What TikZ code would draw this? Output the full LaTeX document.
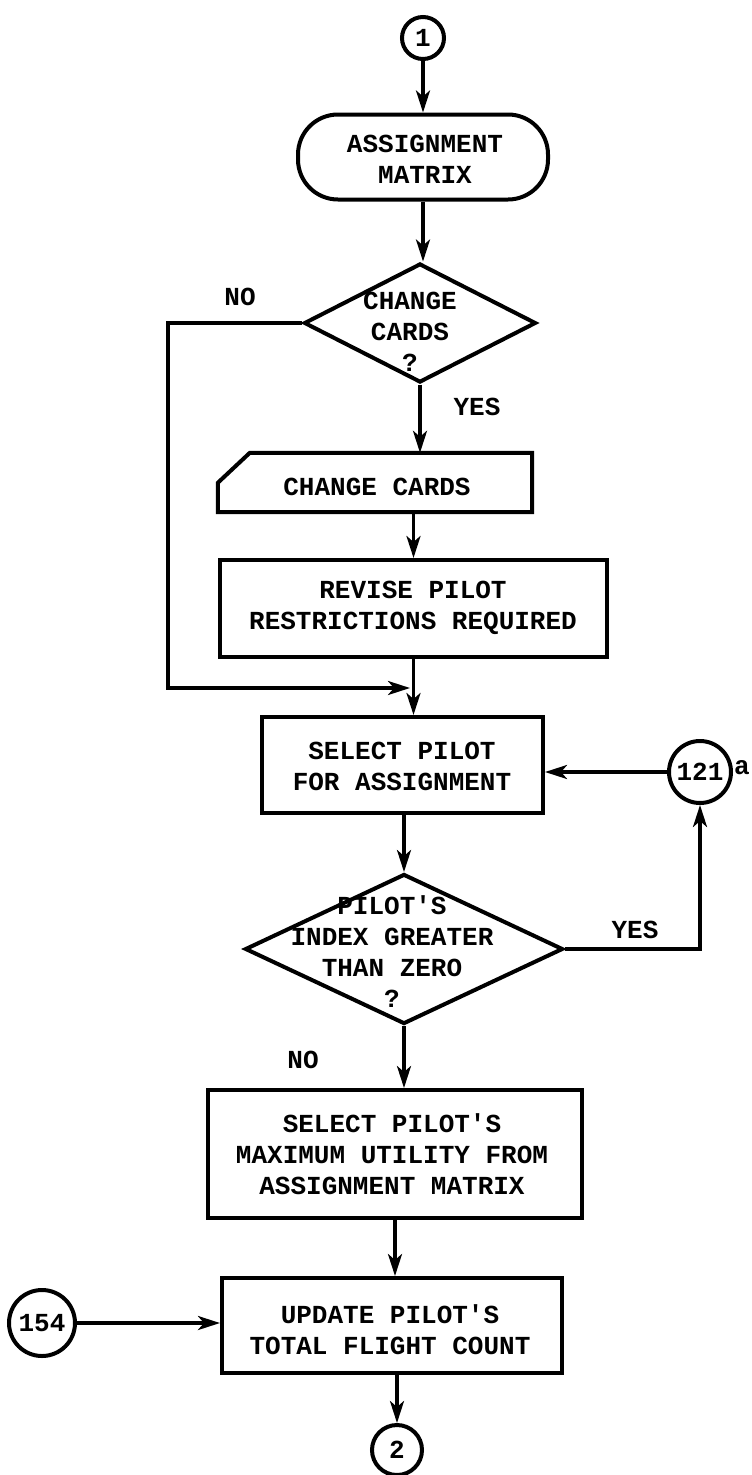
\documentclass[tikz,border=0pt]{standalone}
\usepackage{fontspec}
\setmonofont{Liberation Mono}
\usetikzlibrary{shapes.geometric,arrows.meta}
\begin{document}
\begin{tikzpicture}[x=1pt,y=-1pt,
  ink/.style={draw=black,line width=4pt},
  box/.style={ink,rectangle,inner sep=0pt},
  txt/.style={font=\ttfamily\bfseries\fontsize{26}{31}\selectfont,align=center,inner sep=0pt},
  circ/.style={ink,circle,inner sep=0pt,font=\ttfamily\bfseries\fontsize{26}{31}\selectfont},
  conn/.style={line width=3.5pt,-{Stealth[length=22pt,width=14pt,inset=6pt]}},
  wire/.style={line width=3.5pt}]
\useasboundingbox (0,0) rectangle (752,1475);

% nodes
\node[circ,minimum size=42pt] (c1) at (423,38) {1};
\node[box,rounded corners=40pt,minimum width=250pt,minimum height=85pt] (term) at (423,157) {};
\node[txt] (termt) at (425,159) {ASSIGNMENT\\MATRIX};

\node[ink,diamond,inner sep=0pt,minimum width=232pt,minimum height=119pt] (d1) at (420,323) {};
\node[txt] (d1t) at (410,332) {CHANGE\\CARDS\\?};
\node[txt] (no1) at (240,297) {NO};
\node[txt] (yes1) at (477,407) {YES};

\node[rectangle,inner sep=0pt,minimum width=314pt,minimum height=59pt] (card) at (375,482.5) {};
\draw[ink,line join=miter] ([xshift=32pt]card.north west) -- (card.north east) -- (card.south east) -- (card.south west) -- ([yshift=-30pt]card.north west) -- cycle;
\node[txt] (cardt) at (377,487) {CHANGE CARDS};

\node[box,minimum width=387pt,minimum height=97pt] (rev) at (413.5,608.5) {};
\node[txt] (revt) at (413,608) {REVISE PILOT\\RESTRICTIONS REQUIRED};

\node[box,minimum width=281pt,minimum height=96pt] (sel) at (402.5,765) {};
\node[txt] (selt) at (402,766) {SELECT PILOT\\FOR ASSIGNMENT};

\node[circ,minimum size=62pt] (c121) at (700,772) {121};
\node[txt] (amark) at (742,768) {a};

\node[ink,diamond,inner sep=0pt,minimum width=318pt,minimum height=150pt] (d2) at (404,949) {};
\node[txt] (d2t) at (392,952) {PILOT'S\\INDEX GREATER\\THAN ZERO\\?};
\node[txt] (yes2) at (635,930) {YES};
\node[txt] (no2) at (303,1060) {NO};

\node[box,minimum width=374pt,minimum height=128pt] (max) at (395,1154) {};
\node[txt] (maxt) at (392,1154) {SELECT PILOT'S\\MAXIMUM UTILITY FROM\\ASSIGNMENT MATRIX};

\node[box,minimum width=340pt,minimum height=95pt] (upd) at (392,1325.5) {};
\node[txt] (updt) at (390,1330) {UPDATE PILOT'S\\TOTAL FLIGHT COUNT};

\node[circ,minimum size=66pt] (c154) at (42,1323) {154};
\node[circ,minimum size=50pt] (c2) at (397,1450) {2};

% connectors
\coordinate (nocorner) at (168,323);
\coordinate (join) at (410,688);
\draw[conn] (c1.south) -- (c1.south |- term.north);
\draw[conn] (term.south) -- (term.south |- d1.north);
\draw[conn] (d1.south) -- (d1.south |- card.north);
\draw[conn] (rev.north |- card.south) -- (rev.north);
\draw[wire,line join=miter] (d1.west) -- (nocorner) |- ([xshift=-30pt]join);
\draw[conn] ([xshift=-31pt]join) -- (join);
\draw[conn] (rev.south) -- (rev.south |- sel.north);
\draw[conn] (c121.west) -- (c121.west -| sel.east);
\draw[conn] (d2.north |- sel.south) -- (d2.north);
\draw[conn,line join=miter] (d2.east) -| (c121.south);
\draw[conn] (d2.south) -- (d2.south |- max.north);
\draw[conn] (max.south) -- (max.south |- upd.north);
\draw[conn] (c154.east) -- (c154.east -| upd.west);
\draw[conn] (c2.north |- upd.south) -- (c2.north);
\end{tikzpicture}
\end{document}
